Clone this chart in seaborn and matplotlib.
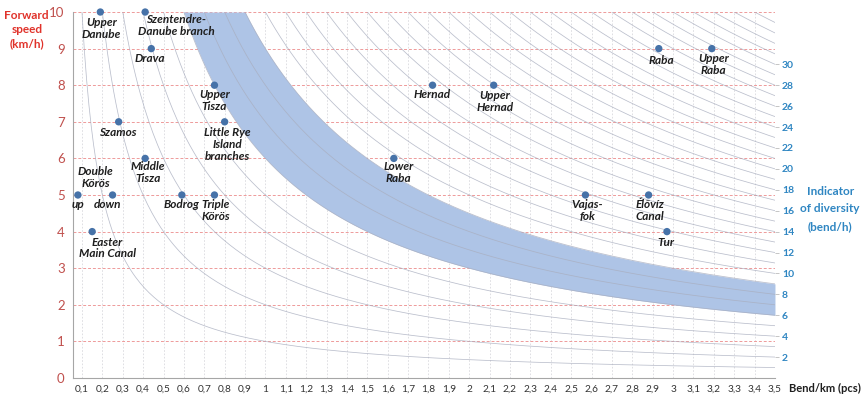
import numpy as np
import pandas as pd
import matplotlib
matplotlib.use('Agg')
import matplotlib.pyplot as plt
import seaborn as sns

# ======= data =======
names = ['Upper\nDanube', 'Szentendre-\nDanube branch', 'Drava', 'Upper\nTisza',
         'Szamos', 'Little Rye\nIsland\nbranches', 'Middle\nTisza', 'up', 'down',
         'Bodrog', 'Triple\nKörös', 'Easter\nMain Canal', 'Lower\nRaba', 'Hernad',
         'Upper\nHernad', 'Raba', 'Upper\nRaba', 'Vajas-\nfok', 'Élővíz\nCanal', 'Tur']
bend_km = [0.19, 0.41, 0.44, 0.75, 0.28, 0.80, 0.41, 0.08, 0.25,
           0.59, 0.75, 0.15, 1.63, 1.82, 2.12, 2.93, 3.19, 2.57, 2.88, 2.97]
speed = [10, 10, 9, 8, 7, 7, 6, 5, 5, 5, 5, 4, 6, 8, 8, 9, 9, 5, 5, 4]

iso_levels = list(range(1, 36))          # bend/h iso-lines
band_levels = (6, 9)                     # shaded band (bend/h)
right_ticks = list(range(2, 31, 2))
x_ticks = [round(0.1 * i, 1) for i in range(1, 36)]
y_ticks = list(range(0, 11))

# label offsets in pixels (dx, dy to top of text), kept apart from data
offsets = [(1, 5), (31, 2), (-1, 4), (0, 4), (-1, 5), (3, 5), (3, 3), (0, 4), (-5, 4),
           (0, 4), (1, 4), (15, 5), (5, 3), (0, 4), (1, 5), (3, 6), (2, 4), (2, 4), (1, 4), (-1, 5)]

df = pd.DataFrame({'name': names, 'bend_km': bend_km, 'speed': speed})

# ======= style =======
sns.set_theme(style='white')
plt.rcParams['font.family'] = ['Lato', 'DejaVu Sans']

RED = '#c0504d'
RED_T = '#e0322a'
BLUE = '#2f86c2'
PT = '#4672a8'
BAND = '#aec4e6'
XMIN, XMAX = 0.056, 3.5

fig = plt.figure(figsize=(8.63, 3.98), dpi=100)
ax = fig.add_axes([0.0846, 0.0503, 0.8134, 0.9195])
ax.set_xlim(XMIN, XMAX)
ax.set_ylim(0, 10)

# grid
for xv in x_ticks:
    ax.axvline(xv, color='#d9d9de', lw=0.6, ls=(0, (2, 2)), zorder=0)
for yv in y_ticks[1:]:
    ax.axhline(yv, color='#ee9a9a', lw=0.7, ls=(0, (3, 2)), zorder=0)

# band
xs = np.linspace(XMIN, XMAX, 600)
ax.fill_between(xs, np.minimum(band_levels[0] / xs, 10), np.minimum(band_levels[1] / xs, 10),
                color=BAND, lw=0, zorder=0.5)

# iso-lines
rows = []
for k in iso_levels:
    xk = np.linspace(max(k / 10, XMIN), XMAX, 300)
    rows.append(pd.DataFrame({'x': xk, 'y': k / xk, 'k': k}))
curves = pd.concat(rows)
sns.lineplot(data=curves, x='x', y='y', units='k', estimator=None, color='#a9aebf',
             lw=0.55, alpha=0.8, ax=ax, zorder=2, sort=False)

# points
sns.scatterplot(data=df, x='bend_km', y='speed', color=PT, s=28, edgecolor='none',
                ax=ax, zorder=5, clip_on=False)

lab_kw = dict(fontsize=8.5, fontweight='bold', fontstyle='italic', color='#1e1e1e',
              ha='center', va='top', textcoords='offset points', linespacing=1.1,
              zorder=6)
for (n, xv, yv), (dx, dy) in zip(zip(names, bend_km, speed), offsets):
    ax.annotate(n, (xv, yv), xytext=(dx * 0.72, -dy * 0.72), **lab_kw)
# shared label for the two Double Körös points
ax.annotate('Double\nKörös', (bend_km[8], speed[8]), xytext=(-17 * 0.72, 29 * 0.72), **lab_kw)

# axes cosmetics
ax.set_xticks(x_ticks)
ax.set_xticklabels([('%g' % v).replace('.', ',') for v in x_ticks], fontsize=7.3, color='#333333')
ax.set_yticks(y_ticks)
ax.set_yticklabels([str(v) for v in y_ticks], fontsize=9.5, color=RED)
ax.tick_params(axis='x', length=3, width=0.6, color='#999999', pad=2)
ax.tick_params(axis='y', length=0, pad=6)
ax.set_xlabel('')
ax.set_ylabel('')
for s in ['top', 'right']:
    ax.spines[s].set_visible(False)
for s in ['left', 'bottom']:
    ax.spines[s].set_color('#a6a6a6')
    ax.spines[s].set_linewidth(0.8)

ax2 = ax.twinx()
ax2.set_ylim(0, 10 * XMAX)
ax2.set_yticks(right_ticks)
ax2.set_yticklabels([str(v) for v in right_ticks], fontsize=7.5, color=BLUE, fontweight='bold')
ax2.tick_params(axis='y', length=3, width=0.6, color='#bbbbbb', pad=2)
for s in ax2.spines.values():
    s.set_visible(False)
ax2.grid(False)

fig.text(0.031, 0.975, 'Forward\nspeed\n(km/h)', ha='center', va='top', fontsize=8.5,
         fontweight='bold', color=RED_T, linespacing=1.35)
fig.text(0.962, 0.475, 'Indicator\n\nof diversity\n\n(bend/h)', ha='center', va='center',
         fontsize=8.5, fontweight='bold', color=BLUE, linespacing=0.75)
fig.text(0.914, 0.024, 'Bend/km (pcs)', ha='left', va='center', fontsize=8,
         fontweight='bold', color='#1e1e1e')

fig.savefig('out.png', dpi=100)
